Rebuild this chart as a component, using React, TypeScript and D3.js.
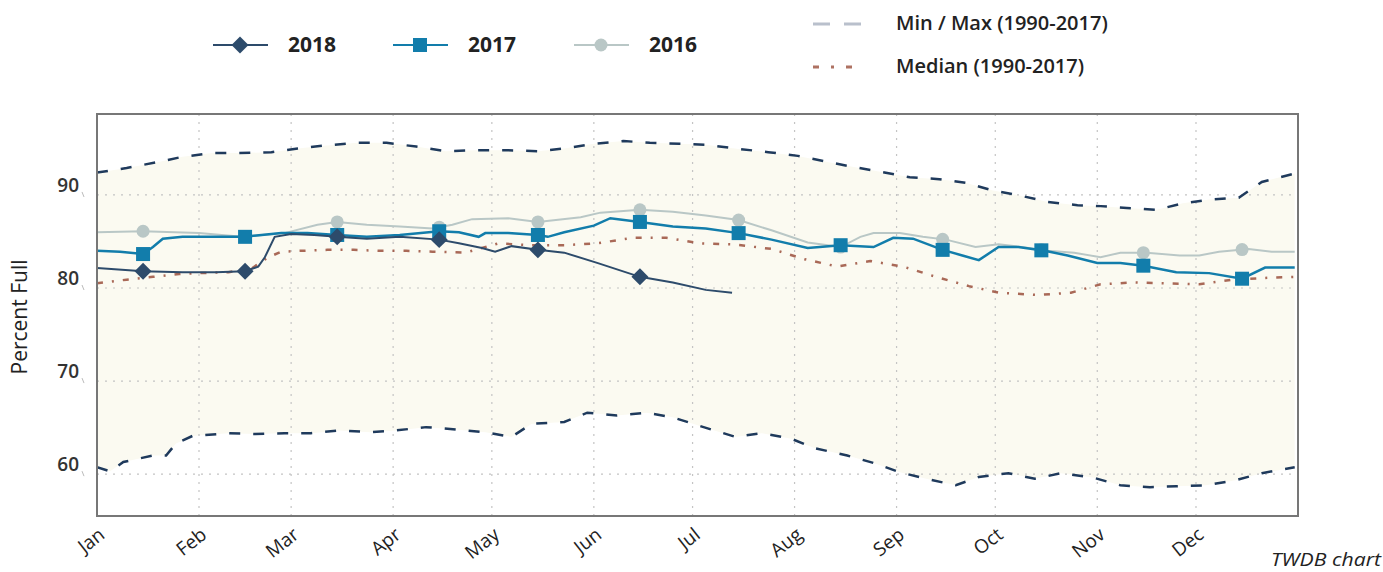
import React from "react";
import * as d3 from "d3";

type P = [string, number];

const monthLabels = ["Jan","Feb","Mar","Apr","May","Jun","Jul","Aug","Sep","Oct","Nov","Dec"];
const yTicks = [60, 70, 80, 90];

const maxSeries: P[] = [
  ["01-01",92.4],["01-10",92.9],["01-19",93.5],["01-27",94.1],["02-05",94.5],["02-13",94.5],["02-23",94.6],
  ["03-03",95.0],["03-11",95.3],["03-21",95.6],["03-30",95.6],["04-08",95.2],["04-17",94.7],["04-26",94.8],
  ["05-06",94.8],["05-15",94.7],["05-23",95.0],["06-01",95.5],["06-10",95.8],["06-18",95.6],["06-27",95.5],
  ["07-05",95.4],["07-15",94.95],["07-24",94.6],["08-02",94.2],["08-11",93.55],["08-19",93.0],["08-27",92.5],
  ["09-05",91.9],["09-14",91.7],["09-22",91.3],["09-30",90.5],["10-09",89.9],["10-17",89.25],["10-26",88.9],
  ["11-02",88.8],["11-10",88.6],["11-19",88.4],["11-27",89.1],["12-05",89.5],["12-14",89.7],["12-21",91.4],
  ["12-31",92.3]
];

const minSeries: P[] = [
  ["01-01",60.75],["01-05",60.3],["01-09",61.3],["01-18",62.0],["01-22",62.0],["01-25",63.3],["01-30",64.1],
  ["02-10",64.4],["02-18",64.3],["02-27",64.4],["03-07",64.4],["03-16",64.7],["03-25",64.5],["04-02",64.7],
  ["04-11",65.05],["04-20",64.8],["04-29",64.5],["05-07",64.0],["05-13",65.4],["05-23",65.6],["05-30",66.6],
  ["06-08",66.3],["06-17",66.6],["06-25",66.1],["07-03",65.2],["07-14",64.0],["07-22",64.4],["07-31",63.8],
  ["08-07",62.8],["08-17",62.0],["08-25",61.2],["09-02",60.2],["09-10",59.5],["09-19",58.8],["09-26",59.7],
  ["10-05",60.1],["10-13",59.5],["10-21",60.1],["10-31",59.6],["11-08",58.8],["11-17",58.6],["11-25",58.7],
  ["12-04",58.8],["12-13",59.35],["12-21",60.1],["12-31",60.75]
];

const medianSeries: P[] = [
  ["01-01",80.5],["01-10",80.9],["01-18",81.2],["01-26",81.5],["02-01",81.6],["02-10",81.7],["02-17",82.1],
  ["02-22",83.3],["02-26",83.9],["03-04",84.0],["03-12",84.1],["03-20",84.1],["03-28",84.0],["04-05",84.0],
  ["04-13",83.9],["04-23",83.8],["05-03",84.8],["05-13",84.6],["05-23",84.6],["06-02",84.8],["06-13",85.4],
  ["06-23",85.4],["07-03",84.8],["07-13",84.7],["07-25",84.2],["08-04",83.1],["08-14",82.3],["08-24",82.9],
  ["09-03",82.3],["09-13",81.2],["09-23",80.2],["10-02",79.5],["10-14",79.25],["10-24",79.5],["11-02",80.4],
  ["11-12",80.6],["11-22",80.5],["12-02",80.4],["12-12",80.9],["12-23",81.1],["12-31",81.2]
];

const series2016: P[] = [
  ["01-01",86.0],["01-15",86.1],["02-01",85.9],["02-14",85.5],["02-27",85.9],["03-09",86.8],["03-15",87.1],
  ["03-24",86.8],["04-03",86.6],["04-13",86.4],["04-19",86.8],["04-25",87.4],["05-06",87.5],["05-15",87.1],
  ["05-28",87.6],["06-03",88.1],["06-15",88.4],["06-25",88.2],["07-05",87.8],["07-15",87.3],["07-25",86.2],
  ["08-05",84.9],["08-15",84.4],["08-21",85.5],["08-25",85.9],["09-02",85.9],["09-09",85.5],["09-16",85.2],
  ["09-25",84.4],["10-02",84.7],["10-09",84.4],["10-17",84.0],["10-25",83.8],["11-02",83.3],["11-08",83.8],
  ["11-16",83.8],["11-26",83.5],["12-02",83.5],["12-08",83.9],["12-17",84.2],["12-24",83.9],["12-31",83.9]
];

const series2017: P[] = [
  ["01-01",84.0],["01-08",83.9],["01-15",83.65],["01-18",84.4],["01-21",85.3],["01-27",85.5],["02-06",85.5],
  ["02-15",85.5],["02-20",85.7],["02-26",85.9],["03-06",85.9],["03-15",85.7],["03-24",85.5],["04-03",85.7],
  ["04-15",86.1],["04-21",86.0],["04-27",85.5],["04-29",85.9],["05-06",85.9],["05-15",85.7],["05-18",85.5],
  ["05-23",86.0],["06-01",86.7],["06-06",87.5],["06-15",87.1],["06-25",86.6],["07-05",86.4],["07-15",85.9],
  ["07-25",85.2],["08-05",84.3],["08-15",84.6],["08-25",84.4],["08-31",85.4],["09-06",85.3],["09-15",84.1],
  ["09-21",83.5],["09-26",83.0],["10-02",84.4],["10-08",84.4],["10-16",84.0],["10-23",83.5],["11-01",82.7],
  ["11-08",82.7],["11-15",82.4],["11-25",81.7],["12-05",81.6],["12-15",81.0],["12-22",82.2],["12-31",82.2]
];

const series2018: P[] = [
  ["01-01",82.15],["01-15",81.8],["01-27",81.7],["02-06",81.7],["02-15",81.8],["02-19",82.3],["02-21",83.3],
  ["02-24",85.5],["03-01",85.8],["03-08",85.7],["03-15",85.5],["03-24",85.3],["04-03",85.5],["04-15",85.2],
  ["04-21",84.8],["04-28",84.3],["05-02",83.9],["05-07",84.5],["05-15",84.1],["05-23",83.8],["06-02",82.7],
  ["06-15",81.2],["06-25",80.6],["07-05",79.8],["07-13",79.5]
];

const markers2018 = ["01-15","02-15","03-15","04-15","05-15","06-15"];
const markers2017 = ["01-15","02-15","03-15","04-15","05-15","06-15","07-15","08-15","09-15","10-15","11-15","12-15"];
const markers2016 = markers2017;

const parse = (s: string) => d3.timeParse("%Y-%m-%d")("2018-" + s) as Date;

const W = 1383, H = 572;
const L = 97, R = 1298, T = 114, B = 516;

const COL18 = "#2d4b6b";
const COL17 = "#127dab";
const COL16 = "#b9c7c6";
const COLMM = "#1f3a5c";
const COLMED = "#9a4f3c";
const FONT = "'Open Sans', 'Liberation Sans', Arial, sans-serif";

export default function App() {
  const x = d3.scaleTime().domain([parse("01-01"), d3.timeParse("%Y-%m-%d")("2019-01-01") as Date]).range([L, R]);
  const y = d3.scaleLinear().domain([55.5, 98.7]).range([B, T]);
  const line = d3.line<P>().x(d => x(parse(d[0]))).y(d => y(d[1]));
  const areaToBottom = d3.area<P>().x(d => x(parse(d[0]))).y0(B).y1(d => y(d[1]));
  const monthTicks = monthLabels.map((_, i) => new Date(2018, i, 1));

  const valueAt = (s: P[], key: string) => {
    const t = parse(key).getTime();
    for (let i = 0; i < s.length - 1; i++) {
      const a = parse(s[i][0]).getTime(), b = parse(s[i + 1][0]).getTime();
      if (t >= a && t <= b) return s[i][1] + (s[i + 1][1] - s[i][1]) * (t - a) / (b - a);
    }
    return s[s.length - 1][1];
  };

  return (
    <svg width={W} height={H} style={{ position: "absolute", left: 0, top: 0, background: "#fff" }} fontFamily={FONT}>
      <defs>
        <clipPath id="plot"><rect x={L} y={T} width={R - L} height={B - T} /></clipPath>
      </defs>
      {/* legend */}
      <g>
        <line x1={213} x2={268} y1={45} y2={45} stroke={COL18} strokeWidth={2} />
        <rect x={-6} y={-6} width={12} height={12} fill={COL18} transform="translate(240,45) rotate(45)" />
        <text x={288} y={52} fontSize={21} fontWeight="bold" fill="#222">2018</text>
        <line x1={393} x2={448} y1={45} y2={45} stroke={COL17} strokeWidth={2} />
        <rect x={413} y={38} width={14} height={14} fill={COL17} />
        <text x={468} y={52} fontSize={21} fontWeight="bold" fill="#222">2017</text>
        <line x1={574} x2={629} y1={45} y2={45} stroke={COL16} strokeWidth={2} />
        <circle cx={601} cy={45} r={6.5} fill={COL16} />
        <text x={649} y={52} fontSize={21} fontWeight="bold" fill="#222">2016</text>
        <line x1={813} x2={862} y1={24} y2={24} stroke="#b9c0cc" strokeWidth={3} strokeDasharray="17,14" />
        <text x={896} y={30} fontSize={20} fontWeight={600} fill="#222">Min / Max (1990-2017)</text>
        <line x1={813} x2={862} y1={67} y2={67} stroke={COLMED} strokeWidth={3} strokeDasharray="6,12,3,12" opacity={0.8} />
        <text x={896} y={73} fontSize={20} fontWeight={600} fill="#222">Median (1990-2017)</text>
      </g>
      {/* band */}
      <g clipPath="url(#plot)">
        <path d={areaToBottom(maxSeries) || ""} fill="#fbfaf1" />
        <path d={areaToBottom(minSeries) || ""} fill="#ffffff" />
      </g>
      {/* grid */}
      <g stroke="#c4c4c4" strokeWidth={1.2} strokeDasharray="2,6">
        {monthTicks.slice(1).map((m, i) => (
          <line key={i} x1={x(m)} x2={x(m)} y1={T} y2={B} />
        ))}
        {yTicks.map(v => (
          <line key={v} x1={L} x2={R} y1={y(v)} y2={y(v)} />
        ))}
      </g>
      {/* series */}
      <g clipPath="url(#plot)" fill="none">
        <path d={line(maxSeries) || ""} stroke={COLMM} strokeWidth={2.5} strokeDasharray="11,13" />
        <path d={line(minSeries) || ""} stroke={COLMM} strokeWidth={2.5} strokeDasharray="11,13" />
        <path d={line(medianSeries) || ""} stroke={COLMED} strokeWidth={2.5} strokeDasharray="6,9,2,9" opacity={0.85} />
        <path d={line(series2016) || ""} stroke={COL16} strokeWidth={2} />
        <path d={line(series2017) || ""} stroke={COL17} strokeWidth={2.5} />
        <path d={line(series2018) || ""} stroke={COL18} strokeWidth={2} />
      </g>
      <g>
        {markers2016.map(k => (
          <circle key={k} cx={x(parse(k))} cy={y(valueAt(series2016, k))} r={6.5} fill={COL16} />
        ))}
        {markers2017.map(k => (
          <rect key={k} x={x(parse(k)) - 7} y={y(valueAt(series2017, k)) - 7} width={14} height={14} fill={COL17} />
        ))}
        {markers2018.map(k => (
          <rect key={k} x={-6} y={-6} width={12} height={12} fill={COL18}
            transform={`translate(${x(parse(k))},${y(valueAt(series2018, k))}) rotate(45)`} />
        ))}
      </g>
      {/* frame */}
      <rect x={L} y={T} width={R - L} height={B - T} fill="none" stroke="#777" strokeWidth={2} />
      {/* y axis */}
      <g>
        {yTicks.map(v => (
          <g key={v}>
            <text x={79} y={y(v) - 3} textAnchor="end" fontSize={19} fontWeight={600} fill="#333">{v}</text>
            <line x1={82} x2={84} y1={y(v) - 3} y2={y(v) + 2} stroke="#bbb" strokeWidth={1} />
          </g>
        ))}
        <text transform={`translate(27,${(T + B) / 2 + 2}) rotate(-90)`} textAnchor="middle" fontSize={21} fill="#222">Percent Full</text>
      </g>
      {/* x axis */}
      <g>
        {monthTicks.map((m, i) => (
          <text key={i} transform={`translate(${x(m) + 9},${537}) rotate(-38)`} textAnchor="end" fontSize={19} fill="#222">{monthLabels[i]}</text>
        ))}
      </g>
      <text x={1381} y={566} textAnchor="end" fontSize={19} fontStyle="italic" fill="#222" textLength={110} lengthAdjust="spacingAndGlyphs">TWDB chart</text>
    </svg>
  );
}
